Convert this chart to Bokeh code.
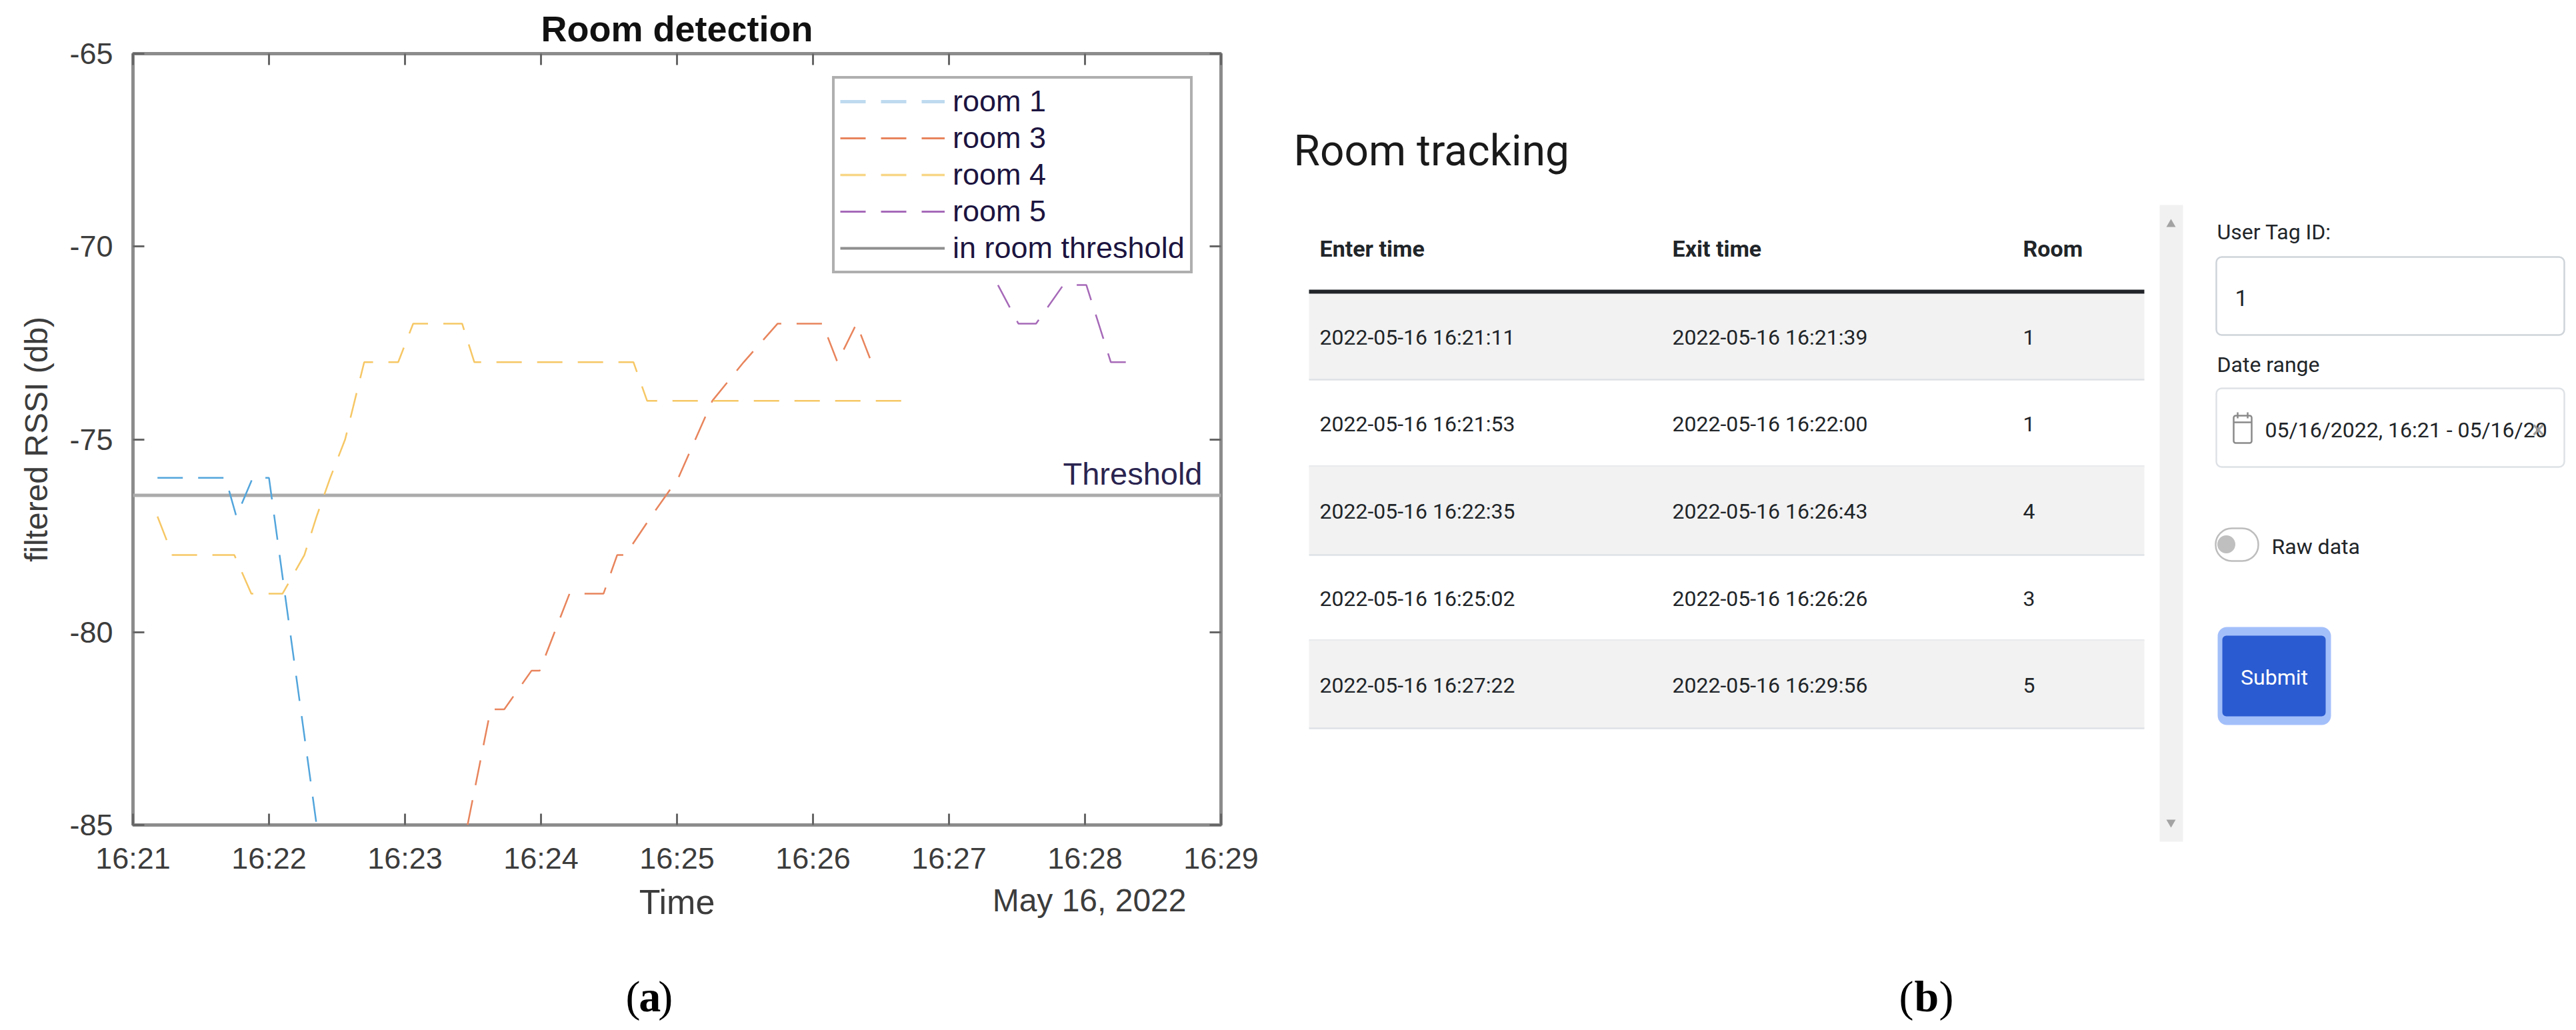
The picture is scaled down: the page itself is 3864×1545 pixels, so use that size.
from bokeh.plotting import figure
from bokeh.layouts import row, column
from bokeh.models import Range1d, FixedTicker, LinearAxis, Legend, LegendItem, Label
from bokeh.core.properties import value
from bokeh.embed import file_html
from bokeh.resources import INLINE

# ---- data (minutes after 16:21, filtered RSSI in db) ----
room1_t = [0.18, 0.68, 0.76, 0.88, 1.00, 1.35]
room1_v = [-76, -76, -77, -76, -76, -85]
room3_t = [2.46, 2.63, 2.73, 2.93, 2.99, 3.21, 3.46, 3.56, 3.62, 3.81, 4.01, 4.26, 4.49, 4.74, 5.07, 5.18, 5.32, 5.43]
room3_v = [-85, -82, -82, -81, -81, -79, -79, -78, -78, -77, -76, -74, -73, -72, -72, -73, -72, -73]
room4_t = [0.18, 0.29, 0.745, 0.87, 1.10, 1.26, 1.35, 1.45, 1.56, 1.63, 1.70, 1.95, 2.06, 2.42, 2.51, 3.68, 3.78, 5.71]
room4_v = [-77, -78, -78, -79, -79, -78, -77, -76, -75, -74, -73, -73, -72, -72, -73, -73, -74, -74]
room5_t = [6.36, 6.51, 6.64, 6.84, 7.01, 7.19, 7.30]
room5_v = [-71, -72, -72, -71, -71, -73, -73]
threshold = -76.45
x_ticks = [0, 1, 2, 3, 4, 5, 6, 7, 8]
x_labels = ["16:21", "16:22", "16:23", "16:24", "16:25", "16:26", "16:27", "16:28", "16:29"]
y_ticks = [-85, -80, -75, -70, -65]
y_labels = ["-85", "-80", "-75", "-70", "-65"]

enter_times = ["2022-05-16 16:21:11", "2022-05-16 16:21:53", "2022-05-16 16:22:35", "2022-05-16 16:25:02", "2022-05-16 16:27:22"]
exit_times = ["2022-05-16 16:21:39", "2022-05-16 16:22:00", "2022-05-16 16:26:43", "2022-05-16 16:26:26", "2022-05-16 16:29:56"]
room_ids = ["1", "1", "4", "3", "5"]

SANS = "Liberation Sans"
UI = "Roboto"
SERIF = "Liberation Serif"

# ---- left chart: its figure ends below the "Time" row; the caption is a figure of its own ----
p = figure(width=1908, height=1437, output_backend="svg", toolbar_location=None,
           x_range=Range1d(0, 8), y_range=Range1d(-85, -65),
           min_border_left=199, min_border_right=77, min_border_top=80, min_border_bottom=200,
           background_fill_color="white", border_fill_color="white", align="start")
p.grid.visible = False
p.outline_line_color = "#8c8c8c"
p.outline_line_width = 5

p.title.text = "Room detection"
p.title.align = "center"
p.title.text_font = SANS
p.title.text_font_size = "54px"
p.title.text_font_style = "bold"
p.title.text_color = "#111111"
p.title.standoff = 16

def style_axis(ax, labelled):
    ax.axis_line_color = None
    ax.major_tick_line_color = "#666666"
    ax.major_tick_line_width = 3
    ax.major_tick_in = 17
    ax.major_tick_out = 0
    ax.minor_tick_line_color = None
    if not labelled:
        ax.major_label_text_color = None
        ax.major_label_text_font_size = "1px"
        ax.major_label_standoff = 0

xa = p.xaxis[0]
xa.ticker = FixedTicker(ticks=x_ticks)
xa.major_label_overrides = dict(zip(x_ticks, x_labels))
style_axis(xa, True)
xa.major_label_text_font = SANS
xa.major_label_text_font_size = "45px"
xa.major_label_text_color = "#3c3c3c"
xa.major_label_standoff = 24
xa.axis_label = "Time"
xa.axis_label_text_font = SANS
xa.axis_label_text_font_style = "normal"
xa.axis_label_text_font_size = "52px"
xa.axis_label_text_color = "#3c3c3c"
xa.axis_label_standoff = 8

ya = p.yaxis[0]
ya.ticker = FixedTicker(ticks=y_ticks)
ya.major_label_overrides = dict(zip(y_ticks, y_labels))
style_axis(ya, True)
ya.major_label_text_font = SANS
ya.major_label_text_font_size = "45px"
ya.major_label_text_color = "#3c3c3c"
ya.major_label_standoff = 30
ya.axis_label = "filtered RSSI (db)"
ya.axis_label_text_font = SANS
ya.axis_label_text_font_style = "normal"
ya.axis_label_text_font_size = "48px"
ya.axis_label_text_color = "#3c3c3c"
ya.axis_label_standoff = 20

top = LinearAxis(ticker=FixedTicker(ticks=x_ticks))
style_axis(top, False)
p.add_layout(top, "above")
right = LinearAxis(ticker=FixedTicker(ticks=y_ticks))
style_axis(right, False)
p.add_layout(right, "right")

DASH = "38 23"
r_th = p.line([0, 8], [threshold, threshold], line_color="#ababab", line_width=5)
r1 = p.line(room1_t, room1_v, line_color="#52a5dc", line_width=2.5, line_dash=DASH)
r3 = p.line(room3_t, room3_v, line_color="#e8845c", line_width=2.5, line_dash=DASH)
r4 = p.line(room4_t, room4_v, line_color="#f6c765", line_width=2.5, line_dash=DASH)
r5 = p.line(room5_t, room5_v, line_color="#a669b8", line_width=2.5, line_dash=DASH)
# one-point lines draw nothing in the frame; they only give the legend its paler strokes
leg1 = p.line(room1_t[:1], room1_v[:1], line_color="#bedaef", line_width=5, line_dash=DASH)
leg3 = p.line(room3_t[:1], room3_v[:1], line_color="#e8845c", line_width=3, line_dash=DASH)
leg4 = p.line(room4_t[:1], room4_v[:1], line_color="#f8d686", line_width=3.5, line_dash=DASH)
leg5 = p.line(room5_t[:1], room5_v[:1], line_color="#a669b8", line_width=3, line_dash=DASH)
leg_t = p.line([threshold], [threshold], line_color="#8f8f8f", line_width=4)

legend = Legend(items=[LegendItem(label="room 1", renderers=[leg1]),
                       LegendItem(label="room 3", renderers=[leg3]),
                       LegendItem(label="room 4", renderers=[leg4]),
                       LegendItem(label="room 5", renderers=[leg5]),
                       LegendItem(label="in room threshold", renderers=[leg_t])],
                location=(1049, 827), orientation="vertical",
                glyph_width=157, glyph_height=40, label_height=40, label_standoff=12,
                spacing=3, padding=8, margin=0,
                label_text_font=SANS, label_text_font_size="45px", label_text_color="#1c1440",
                border_line_color="#5f5f5f", border_line_width=4,
                background_fill_color="white", background_fill_alpha=1.0)
p.add_layout(legend, "center")

p.add_layout(Label(x=1803, y=710, x_units="canvas", y_units="canvas", text="Threshold",
                   text_font=SANS, text_font_size="47px", text_color="#2a2450",
                   text_align="right", text_baseline="middle"))
p.add_layout(Label(x=1779, y=1350, x_units="canvas", y_units="canvas", text="May 16, 2022",
                   text_font=SANS, text_font_size="48px", text_color="#3c3c3c",
                   text_align="right", text_baseline="middle"), "below")

# caption strip under the left chart, in page coordinates of the reference
c = figure(width=1908, height=100, output_backend="svg", toolbar_location=None,
           x_range=Range1d(0, 1908), y_range=Range1d(1537, 1437),
           min_border=0, outline_line_color=None,
           background_fill_color="white", border_fill_color="white", align="start")
c.axis.visible = False
c.grid.visible = False

def ctxt(x, y, t, size, color="#333333", style="normal", font=SERIF, align="left"):
    c.text([x], [y], text=[t], text_font=value(font), text_font_size=value(size),
           text_color=color, text_align=align, text_baseline="middle", text_font_style=style)

ctxt(864, 1494, "(", "66px", color="black")
ctxt(887, 1494, "a", "66px", color="black", style="bold")
ctxt(921, 1494, ")", "66px", color="black")

# ---- right panel: page coordinates of the reference ----
q = figure(width=1948, height=1537, output_backend="svg", toolbar_location=None,
           x_range=Range1d(1908, 3856), y_range=Range1d(1537, 0),
           min_border=0, outline_line_color=None,
           background_fill_color="white", border_fill_color="white", align="start")
q.axis.visible = False
q.grid.visible = False

def txt(x, y, t, size, color="#212529", style="normal", font=UI, align="left"):
    q.text([x], [y], text=[t], text_font=value(font), text_font_size=value(size),
           text_color=color, text_align=align, text_baseline="middle", text_font_style=style)

def box(l, r, t, b, fill="white", line=None, w=0, rad=0):
    q.quad(left=[l], right=[r], top=[t], bottom=[b], fill_color=fill,
           line_color=line, line_width=w, border_radius=rad)

txt(1940, 226, "Room tracking", "64px", color="#1a1a1a")

COL_X = [1979, 2508, 3034]
for x, t in zip(COL_X, ["Enter time", "Exit time", "Room"]):
    txt(x, 372, t, "34px", style="bold")

ROW_EDGES = [440, 569, 699, 832, 960, 1092]
for i in range(5):
    top_y, bot_y = ROW_EDGES[i], ROW_EDGES[i + 1]
    if i % 2 == 0:
        box(1963, 3216, top_y, bot_y, fill="#f2f2f2")
    q.line([1963, 3216], [bot_y, bot_y], line_color="#dee2e6", line_width=2.5)
    mid = (top_y + bot_y) / 2 + 1
    txt(COL_X[0], mid, enter_times[i], "32px")
    txt(COL_X[1], mid, exit_times[i], "32px")
    txt(COL_X[2], mid, room_ids[i], "32px")
q.line([1963, 3216], [437, 437], line_color="#212529", line_width=6)

# scrollbar
box(3239, 3274, 307, 1262, fill="#f1f1f1")
q.scatter([3256], [336], marker="triangle", size=14, fill_color="#a3a3a3", line_color=None)
q.scatter([3256], [1233], marker="inverted_triangle", size=14, fill_color="#a3a3a3", line_color=None)

# form
txt(3325, 347, "User Tag ID:", "32px")
box(3324, 3846, 385, 502, line="#ced4da", w=2.5, rad=8)
txt(3352, 446, "1", "34px")
txt(3325, 546, "Date range", "32px")
box(3324, 3846, 582, 700, line="#dee2e6", w=2.5, rad=8)
box(3350, 3377, 623, 664, line="#8a8a8a", w=2.5, rad=3)
q.line([3350, 3377], [633, 633], line_color="#8a8a8a", line_width=2.5)
q.segment([3356, 3371], [618, 618], [3356, 3371], [627, 627], line_color="#8a8a8a", line_width=2.5)
txt(3397, 644, "05/16/2022, 16:21 - 05/16/20", "32px")
txt(3807, 644, "\u00d7", "36px", color="#9a9a9a", align="center")

box(3323, 3387, 792, 841, line="#bdbdbd", w=2.5, rad=24)
q.scatter([3339], [816], marker="circle", size=27, fill_color="#bfbfbf", line_color=None)
txt(3407, 819, "Raw data", "32px")

box(3326, 3496, 940, 1087, fill="#a3bffa", rad=14)
box(3333, 3488, 953, 1074, fill="#2a5bd0", rad=6)
txt(3411, 1015, "Submit", "32px", color="white", align="center")

txt(2848, 1494, "(", "66px", color="black", font=SERIF)
txt(2871, 1494, "b", "66px", color="black", font=SERIF, style="bold")
txt(2908, 1494, ")", "66px", color="black", font=SERIF)

page = row(column(p, c, spacing=0), column(q), spacing=0)
open("out.html", "w").write(file_html(page, INLINE))
